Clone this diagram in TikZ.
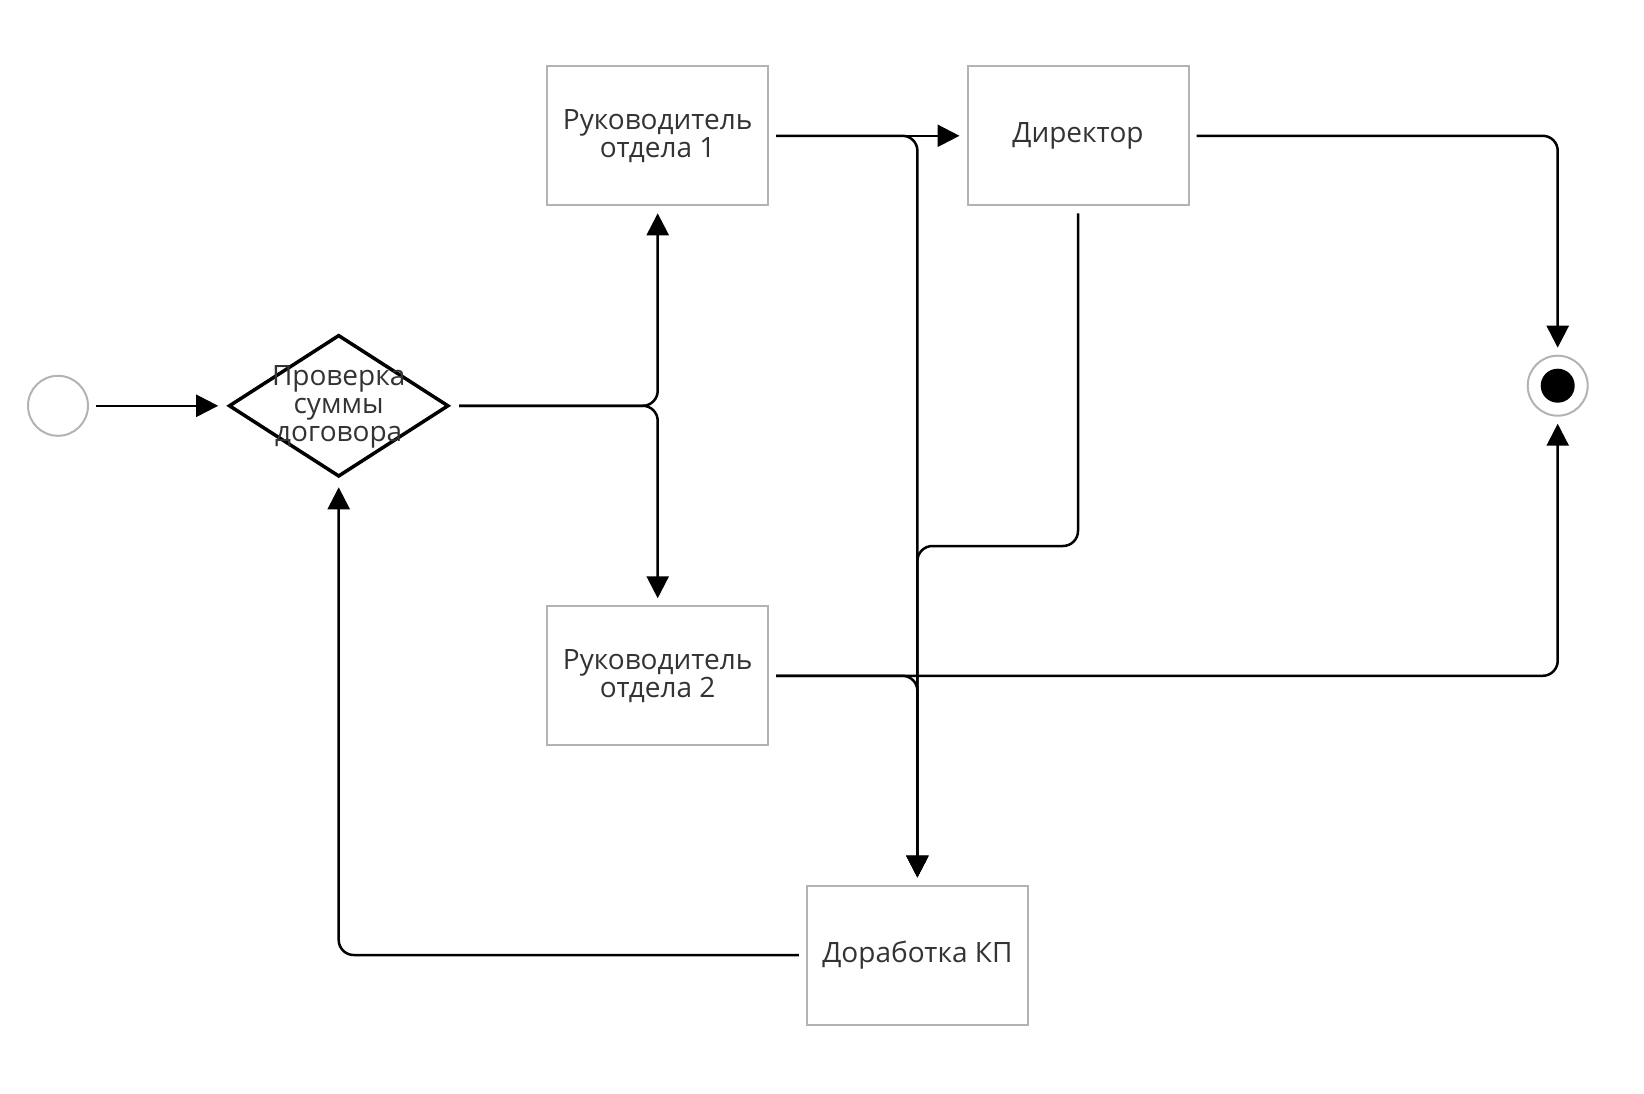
\documentclass[tikz,border=0pt]{standalone}
\usepackage{fontspec}
\setmainfont{Open Sans}
\usetikzlibrary{shapes.geometric,arrows.meta}
\definecolor{txt}{HTML}{333333}
\definecolor{bord}{HTML}{B3B3B3}
\tikzset{
  every node/.style={outer sep=8pt},
  lbl/.style={font=\fontsize{28}{28}\selectfont, text=txt, align=center},
  box/.style={draw=bord, line width=2pt, minimum width=221pt, minimum height=139pt, inner sep=0pt, lbl},
  conn/.style={line width=2.5pt, rounded corners=15pt, -{Triangle[length=22pt,width=22pt]}},
}
\begin{document}
\begin{tikzpicture}[x=1pt,y=-1pt]
\useasboundingbox (0,0) rectangle (1644,1094);
\node[circle, draw=bord, line width=2pt, minimum size=60pt, inner sep=0pt] (start) at (58,405.8) {};
\node[diamond, draw=black, line width=3.5pt, minimum width=225pt, minimum height=147pt, inner sep=0pt,
  label={[lbl, outer sep=0pt, yshift=-1pt]center:Проверка\\суммы\\договора}] (dec) at (338.7,405.8) {};
\node[box] (r1) at (657.7,135.8) {Руководитель\\отдела 1};
\node[box] (r2) at (657.7,675.8) {Руководитель\\отдела 2};
\node[box] (dir) at (1078,135.8) {Директор};
\node[box] (dor) at (917.4,955) {Доработка КП};
\node[circle, draw=bord, line width=2pt, minimum size=60pt, inner sep=0pt] (end) at (1557.7,385.7) {};
\fill (end.center) circle (17);
\coordinate (j1) at (dir.south |- 0,546);

\draw[conn] (start) -- (dec);
\draw[conn] (dec.east) -| (r1.south);
\draw[conn] (dec.east) -| (r2.north);
\draw[conn] (r1.east) -- (dir.west);
\draw[conn] (r1.east) -| (dor.north);
\draw[conn] (dir.east) -| (end.north);
\draw[conn] (dir.south) -- (j1) -| (dor.north);
\draw[conn] (r2.east) -| (end.south);
\draw[conn] (r2.east) -| (dor.north);
\draw[conn] (dor.west) -| (dec.south);
\end{tikzpicture}
\end{document}
